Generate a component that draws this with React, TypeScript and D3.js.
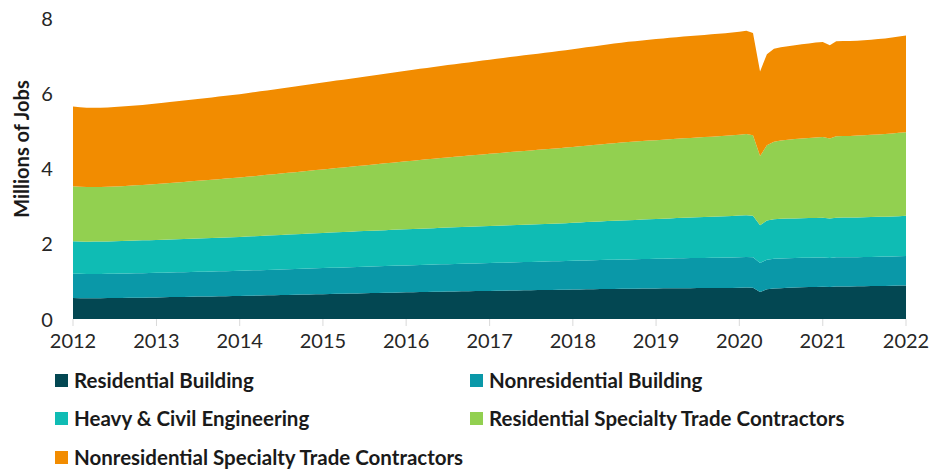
import React from "react";
import * as d3 from "d3";

const seriesNames = [
  "Residential Building",
  "Nonresidential Building",
  "Heavy & Civil Engineering",
  "Residential Specialty Trade Contractors",
  "Nonresidential Specialty Trade Contractors",
];

const colors = ["#034752", "#0a98a8", "#0fbcb4", "#92d050", "#f28c00"];

const yTicks = [0, 2, 4, 6, 8];
const xTickYears = [2012, 2013, 2014, 2015, 2016, 2017, 2018, 2019, 2020, 2021, 2022];

// Monthly values, Jan 2012 .. Jan 2022 (millions of jobs)
const residentialBuilding = [
  0.555, 0.553, 0.552, 0.553, 0.554, 0.556, 0.558, 0.560, 0.563, 0.566, 0.568, 0.571,
  0.574, 0.578, 0.582, 0.585, 0.588, 0.592, 0.595, 0.598, 0.601, 0.604, 0.607, 0.610,
  0.613, 0.617, 0.621, 0.625, 0.629, 0.633, 0.637, 0.641, 0.645, 0.649, 0.653, 0.657,
  0.661, 0.665, 0.669, 0.673, 0.677, 0.681, 0.685, 0.689, 0.693, 0.697, 0.701, 0.705,
  0.709, 0.713, 0.717, 0.720, 0.723, 0.726, 0.729, 0.732, 0.735, 0.738, 0.741, 0.744,
  0.747, 0.750, 0.753, 0.756, 0.759, 0.762, 0.765, 0.768, 0.771, 0.774, 0.777, 0.780,
  0.783, 0.786, 0.789, 0.792, 0.795, 0.798, 0.800, 0.802, 0.804, 0.806, 0.808, 0.810,
  0.812, 0.814, 0.816, 0.818, 0.819, 0.820, 0.821, 0.822, 0.823, 0.824, 0.825, 0.827,
  0.830, 0.834, 0.828, 0.720, 0.790, 0.810, 0.820, 0.828, 0.835, 0.842, 0.848, 0.853,
  0.856, 0.850, 0.862, 0.864, 0.866, 0.868, 0.871, 0.874, 0.877, 0.880, 0.884, 0.888,
  0.892,
];

const nonresidentialBuilding = [
  0.650, 0.648, 0.647, 0.646, 0.645, 0.645, 0.646, 0.647, 0.648, 0.649, 0.650, 0.651,
  0.652, 0.653, 0.654, 0.655, 0.656, 0.657, 0.658, 0.659, 0.660, 0.662, 0.664, 0.666,
  0.668, 0.670, 0.672, 0.674, 0.676, 0.678, 0.680, 0.682, 0.684, 0.686, 0.688, 0.690,
  0.692, 0.694, 0.696, 0.698, 0.700, 0.702, 0.704, 0.706, 0.708, 0.710, 0.712, 0.714,
  0.716, 0.718, 0.720, 0.722, 0.724, 0.726, 0.728, 0.730, 0.732, 0.734, 0.736, 0.738,
  0.740, 0.742, 0.744, 0.746, 0.748, 0.750, 0.752, 0.754, 0.756, 0.758, 0.760, 0.762,
  0.764, 0.766, 0.768, 0.770, 0.772, 0.774, 0.776, 0.778, 0.780, 0.782, 0.784, 0.786,
  0.788, 0.790, 0.792, 0.794, 0.796, 0.798, 0.800, 0.802, 0.804, 0.806, 0.808, 0.810,
  0.812, 0.815, 0.810, 0.770, 0.785, 0.790, 0.790, 0.788, 0.786, 0.784, 0.782, 0.780,
  0.778, 0.770, 0.776, 0.776, 0.775, 0.775, 0.776, 0.777, 0.778, 0.779, 0.780, 0.782,
  0.784,
];

const heavyCivil = [
  0.860, 0.858, 0.857, 0.858, 0.860, 0.862, 0.864, 0.866, 0.868, 0.870, 0.872, 0.874,
  0.876, 0.878, 0.880, 0.882, 0.884, 0.886, 0.888, 0.890, 0.892, 0.894, 0.896, 0.898,
  0.900, 0.903, 0.906, 0.909, 0.912, 0.915, 0.918, 0.921, 0.924, 0.927, 0.930, 0.933,
  0.936, 0.938, 0.940, 0.942, 0.944, 0.946, 0.948, 0.950, 0.952, 0.954, 0.956, 0.958,
  0.960, 0.962, 0.964, 0.966, 0.968, 0.970, 0.972, 0.974, 0.976, 0.978, 0.980, 0.982,
  0.984, 0.986, 0.988, 0.990, 0.992, 0.994, 0.996, 0.998, 1.000, 1.002, 1.004, 1.006,
  1.010, 1.014, 1.018, 1.022, 1.026, 1.030, 1.034, 1.038, 1.042, 1.046, 1.050, 1.054,
  1.058, 1.062, 1.066, 1.070, 1.074, 1.078, 1.082, 1.086, 1.090, 1.094, 1.098, 1.102,
  1.106, 1.110, 1.105, 1.000, 1.040, 1.050, 1.052, 1.052, 1.052, 1.052, 1.053, 1.054,
  1.055, 1.048, 1.056, 1.056, 1.056, 1.057, 1.058, 1.059, 1.060, 1.061, 1.062, 1.064,
  1.066,
];

const residentialSpecialty = [
  1.460, 1.456, 1.452, 1.450, 1.450, 1.452, 1.455, 1.458, 1.462, 1.467, 1.472, 1.478,
  1.485, 1.492, 1.500, 1.508, 1.516, 1.524, 1.532, 1.540, 1.548, 1.556, 1.564, 1.572,
  1.580, 1.588, 1.596, 1.605, 1.614, 1.623, 1.632, 1.641, 1.650, 1.659, 1.668, 1.677,
  1.686, 1.696, 1.706, 1.716, 1.726, 1.736, 1.746, 1.756, 1.766, 1.776, 1.786, 1.796,
  1.806, 1.816, 1.826, 1.836, 1.846, 1.856, 1.866, 1.875, 1.884, 1.893, 1.902, 1.911,
  1.920, 1.928, 1.936, 1.944, 1.952, 1.960, 1.968, 1.976, 1.984, 1.992, 2.000, 2.008,
  2.016, 2.024, 2.032, 2.040, 2.048, 2.056, 2.064, 2.072, 2.080, 2.084, 2.088, 2.092,
  2.096, 2.100, 2.104, 2.108, 2.112, 2.116, 2.120, 2.124, 2.128, 2.132, 2.137, 2.142,
  2.150, 2.160, 2.140, 1.840, 2.000, 2.060, 2.080, 2.095, 2.110, 2.120, 2.130, 2.140,
  2.148, 2.130, 2.160, 2.165, 2.170, 2.175, 2.180, 2.185, 2.190, 2.198, 2.206, 2.214,
  2.222,
];

const nonresidentialSpecialty = [
  2.120, 2.114, 2.108, 2.105, 2.105, 2.107, 2.110, 2.114, 2.119, 2.124, 2.129, 2.135,
  2.141, 2.147, 2.153, 2.159, 2.165, 2.171, 2.177, 2.183, 2.189, 2.195, 2.201, 2.207,
  2.213, 2.221, 2.229, 2.237, 2.245, 2.253, 2.261, 2.269, 2.277, 2.285, 2.293, 2.301,
  2.309, 2.317, 2.325, 2.333, 2.341, 2.349, 2.357, 2.365, 2.373, 2.381, 2.389, 2.397,
  2.405, 2.413, 2.421, 2.429, 2.437, 2.445, 2.453, 2.461, 2.469, 2.477, 2.485, 2.493,
  2.501, 2.509, 2.517, 2.525, 2.533, 2.541, 2.549, 2.557, 2.565, 2.573, 2.581, 2.589,
  2.597, 2.605, 2.613, 2.621, 2.629, 2.637, 2.645, 2.653, 2.661, 2.667, 2.673, 2.679,
  2.685, 2.690, 2.695, 2.700, 2.704, 2.708, 2.712, 2.716, 2.720, 2.724, 2.728, 2.732,
  2.736, 2.742, 2.720, 2.250, 2.420, 2.470, 2.480, 2.488, 2.496, 2.504, 2.512, 2.520,
  2.522, 2.480, 2.528, 2.526, 2.524, 2.522, 2.525, 2.530, 2.535, 2.540, 2.550, 2.560,
  2.570,
];

const seriesValues = [
  residentialBuilding,
  nonresidentialBuilding,
  heavyCivil,
  residentialSpecialty,
  nonresidentialSpecialty,
];

const W = 936;
const H = 470;
const plot = { left: 73, right: 906, top: 18, bottom: 319 };
const FONT = "Lato, 'Open Sans', sans-serif";

export default function App() {
  const months = residentialBuilding.map((_, i) => new Date(2012, i, 1));
  const rows = months.map((d, i) => {
    const r: any = { date: d };
    seriesNames.forEach((name, s) => (r[name] = seriesValues[s][i]));
    return r;
  });

  const x = d3
    .scaleTime()
    .domain([new Date(2012, 0, 1), new Date(2022, 0, 1)])
    .range([plot.left, plot.right]);
  const y = d3.scaleLinear().domain([0, 8]).range([plot.bottom, plot.top]);

  const stacked = d3.stack().keys(seriesNames)(rows);
  const area = d3
    .area<any>()
    .x((d) => x(d.data.date))
    .y0((d) => y(d[0]))
    .y1((d) => y(d[1]));

  const legendPos = [
    { x: 55, y: 381 },
    { x: 470, y: 381 },
    { x: 55, y: 419 },
    { x: 470, y: 419 },
    { x: 55, y: 458 },
  ];

  return (
    <svg width={W} height={H} style={{ display: "block", position: "absolute", left: 0, top: 0 }}>
      <rect width={W} height={H} fill="#ffffff" />
      {stacked.map((layer, i) => (
        <path key={i} d={area(layer as any) || ""} fill={colors[i]} />
      ))}
      {xTickYears.map((yr) => (
        <line
          key={yr}
          x1={x(new Date(yr, 0, 1))}
          x2={x(new Date(yr, 0, 1))}
          y1={plot.bottom}
          y2={plot.bottom + 7}
          stroke="#d9d9d9"
          strokeWidth={1}
        />
      ))}
      {xTickYears.map((yr) => (
        <text
          key={"l" + yr}
          x={x(new Date(yr, 0, 1))}
          y={347.5}
          textAnchor="middle"
          fontFamily={FONT}
          fontSize={20}
          fill="#262626"
        >
          {yr}
        </text>
      ))}
      {yTicks.map((t) => (
        <text
          key={"y" + t}
          x={47}
          y={y(t) + 7.5}
          textAnchor="middle"
          fontFamily={FONT}
          fontSize={20}
          fill="#262626"
        >
          {t}
        </text>
      ))}
      <text
        transform={`translate(29,149) rotate(-90)`}
        textAnchor="middle"
        fontFamily={FONT}
        fontWeight={700}
        fontSize={20}
        fill="#1a1a1a"
      >
        Millions of Jobs
      </text>
      {seriesNames.map((name, i) => (
        <g key={"lg" + i}>
          <rect x={legendPos[i].x} y={legendPos[i].y - 7} width={13} height={13} fill={colors[i]} />
          <text
            x={legendPos[i].x + 19}
            y={legendPos[i].y + 7}
            fontFamily={FONT}
            fontWeight={700}
            fontSize={20.5}
            fill="#1a1a1a"
          >
            {name}
          </text>
        </g>
      ))}
    </svg>
  );
}
